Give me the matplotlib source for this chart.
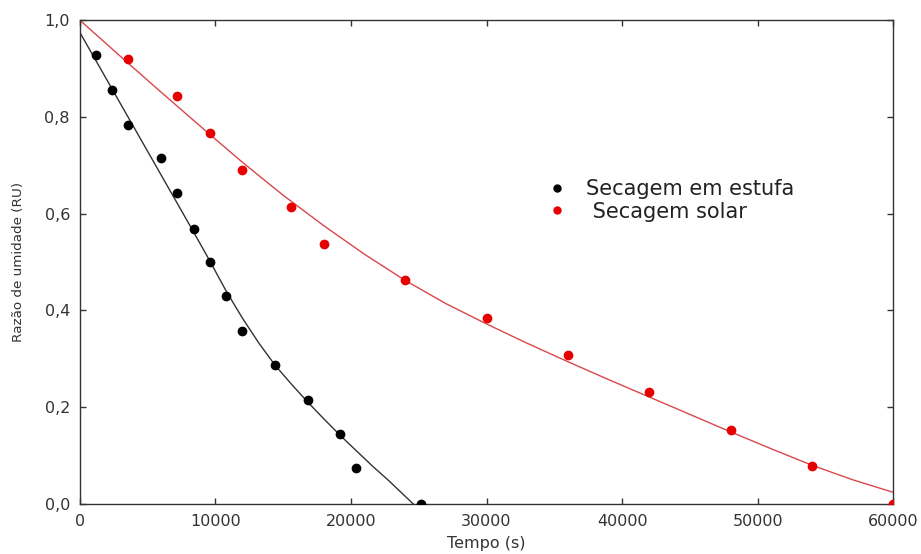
import matplotlib
matplotlib.use("Agg")
import matplotlib.pyplot as plt
from matplotlib.lines import Line2D

plt.rcParams['font.family'] = ['DejaVu Sans']

# Data points
estufa_t = [1200, 2400, 3600, 6000, 7200, 8400, 9600, 10800, 12000, 14400, 16800, 19200, 20400, 25200]
estufa_ru = [0.928, 0.856, 0.784, 0.715, 0.643, 0.569, 0.499, 0.429, 0.357, 0.287, 0.214, 0.144, 0.074, 0.0]

solar_t = [3600, 7200, 9600, 12000, 15600, 18000, 24000, 30000, 36000, 42000, 48000, 54000, 60000]
solar_ru = [0.920, 0.843, 0.767, 0.691, 0.614, 0.538, 0.462, 0.384, 0.307, 0.231, 0.153, 0.078, 0.0]

# Fitted curves
estufa_fit_t = [0, 1200, 2400, 3600, 4800, 6000, 7200, 8400, 9600, 10800, 12000, 13200, 14400,
                15600, 16800, 18000, 19200, 20400, 21600, 22800, 24000, 24600]
estufa_fit_ru = [0.975, 0.916, 0.857, 0.798, 0.739, 0.680, 0.621, 0.562, 0.502, 0.440, 0.384, 0.333, 0.287,
                 0.248, 0.211, 0.176, 0.142, 0.110, 0.078, 0.048, 0.016, 0.0]

solar_fit_t = [0, 3000, 6000, 9000, 12000, 15000, 18000, 21000, 24000, 27000, 30000, 33000,
               36000, 39000, 42000, 45000, 48000, 51000, 54000, 57000, 60000]
solar_fit_ru = [1.000, 0.925, 0.851, 0.778, 0.706, 0.638, 0.575, 0.516, 0.462, 0.414, 0.372, 0.332,
                0.294, 0.257, 0.221, 0.185, 0.149, 0.114, 0.080, 0.050, 0.024]

x_ticks = [0, 10000, 20000, 30000, 40000, 50000, 60000]
x_ticklabels = ["0", "10000", "20000", "30000", "40000", "50000", "60000"]
y_ticks = [0.0, 0.2, 0.4, 0.6, 0.8, 1.0]
y_ticklabels = ["0,0", "0,2", "0,4", "0,6", "0,8", "1,0"]

labels = ["Secagem em estufa", " Secagem solar"]

fig = plt.figure(figsize=(9.21, 5.54), dpi=100)
ax = fig.add_axes([0.0865, 0.0903, 0.8835, 0.8736])

ax.plot(estufa_fit_t, estufa_fit_ru, color='#333333', lw=1.0, zorder=2)
ax.plot(solar_fit_t, solar_fit_ru, color='#d9474b', lw=1.0, zorder=2)
ax.plot(estufa_t, estufa_ru, 'o', color='black', ms=6, zorder=3)
ax.plot(solar_t, solar_ru, 'o', color='#e60000', ms=6, zorder=3)

ax.set_xlim(0, 60000)
ax.set_ylim(0, 1.0)
ax.set_xticks(x_ticks)
ax.set_xticklabels(x_ticklabels)
ax.set_yticks(y_ticks)
ax.set_yticklabels(y_ticklabels)
ax.tick_params(direction='in', length=4, width=1, colors='#333333', labelcolor='#333333',
               labelsize=11.5, top=True, right=True, pad=7)
for s in ax.spines.values():
    s.set_color('#333333')
    s.set_linewidth(1.0)

ax.set_xlabel("Tempo (s)", fontsize=11.5, color='#333333', labelpad=5)
ax.set_ylabel("Razão de umidade (RU)", fontsize=9.7, color='#333333', labelpad=14)

handles = [Line2D([], [], ls='none', marker='o', color='black', ms=5),
           Line2D([], [], ls='none', marker='o', color='#e60000', ms=5)]
ax.legend(handles, labels, loc='upper left', bbox_to_anchor=(0.5744, 0.6705),
          frameon=False, fontsize=15, handlelength=1.0, handletextpad=0.85,
          borderpad=0, borderaxespad=0, labelspacing=0.1, labelcolor='#222222')

fig.savefig("out.png", dpi=100)
